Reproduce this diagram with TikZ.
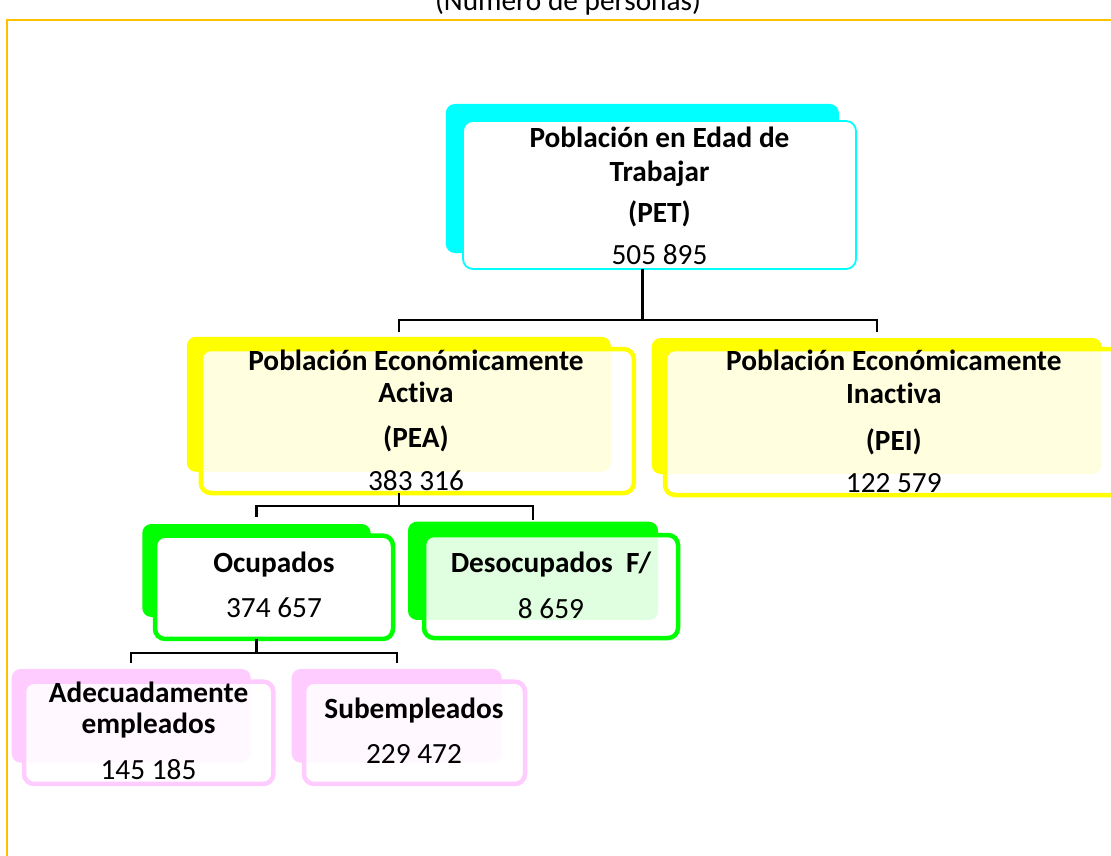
\documentclass[tikz,border=0pt]{standalone}
\usepackage{fontspec}
\setmainfont{Carlito}[Ligatures=NoCommon]
\definecolor{framec}{HTML}{FFC000}
\definecolor{cyanc}{HTML}{00FFFF}
\definecolor{yelc}{HTML}{FFFF00}
\definecolor{grnc}{HTML}{00FF00}
\definecolor{pnkc}{HTML}{FFCCFF}
\tikzset{
 backbox/.style={rectangle, rounded corners=9pt, inner sep=0pt, outer sep=0pt, draw=none},
 frontbox/.style={rectangle, rounded corners=10pt, inner sep=0pt, outer sep=0pt, line width=4.5pt, fill=white},
 glass/.style={fill opacity=0.88},
 conn/.style={draw=black, line width=2.4pt},
 tb/.style={anchor=base, inner sep=0pt, font=\bfseries\fontsize{29.3}{35}\selectfont},
 tn/.style={anchor=base, inner sep=0pt, font=\fontsize{29.3}{35}\selectfont},
}
\begin{document}
\begin{tikzpicture}[x=1pt,y=-1pt]
\useasboundingbox[fill=white] (0,0) rectangle (1111,856);
% frame and title
\draw[framec, line width=2.4pt] (1130,20) -- (7,20) -- (7,880);
\node[tn] (title) at (568,11) {(Número de personas)};

% PET
\node[backbox, fill=cyanc, minimum width=393, minimum height=149] (petB) at (642.3,178.5) {};
\node[frontbox, draw=cyanc, line width=1.8pt, minimum width=393, minimum height=148] (pet) at (659.5,195) {};
\node[tb] (pet1) at (659.5,147) {Población en Edad de};
\node[tb] (pet2) at (659.5,182) {Trabajar};
\node[tb] (pet3) at (659.5,222) {(PET)};
\node[tn] (pet4) at (659.5,264) {505 895};

% PEA
\node[backbox, fill=yelc, minimum width=424, minimum height=135] (peaB) at (398.8,404.3) {};
\node[frontbox, glass, draw=yelc, minimum width=433, minimum height=144] (pea) at (417.3,421) {};
\node[tb] (pea1) at (416,370.5) {Población Económicamente};
\node[tb] (pea2) at (416,402) {Activa};
\node[tb] (pea3) at (416,447) {(PEA)};
\node[tn] (pea4) at (416,490.5) {383 316};

% PEI
\node[backbox, fill=yelc, minimum width=450, minimum height=136] (peiB) at (876.7,406) {};
\node[frontbox, glass, draw=yelc, minimum width=457.6, minimum height=146] (pei) at (893.8,422) {};
\node[tb] (pei1) at (893.8,370.5) {Población Económicamente};
\node[tb] (pei2) at (893.8,403.5) {Inactiva};
\node[tb] (pei3) at (893.8,450.5) {(PEI)};
\node[tn] (pei4) at (893.8,492.5) {122 579};

% Ocupados
\node[backbox, fill=grnc, minimum width=228.4, minimum height=93] (ocuB) at (256.5,570.5) {};
\node[frontbox, draw=grnc, minimum width=238, minimum height=103.3] (ocu) at (274,587.3) {};
\node[tb] (ocu1) at (274,572.5) {Ocupados};
\node[tn] (ocu2) at (274,617) {374 657};

% Desocupados
\node[backbox, fill=grnc, minimum width=250, minimum height=98.3] (desB) at (533,570.8) {};
\node[frontbox, glass, draw=grnc, minimum width=254, minimum height=103] (des) at (551,586.5) {};
\node[tb] (des1) at (551,572.5) {Desocupados\ \ F/};
\node[tn] (des2) at (551,618) {8 659};

% Adecuadamente empleados
\node[backbox, fill=pnkc, minimum width=239, minimum height=93.7] (adeB) at (131.2,715.8) {};
\node[frontbox, glass, draw=pnkc, minimum width=249.3, minimum height=102.3] (ade) at (148.7,732.8) {};
\node[tb] (ade1) at (148.5,702.5) {Adecuadamente};
\node[tb] (ade2) at (148.5,733) {empleados};
\node[tn] (ade3) at (148.5,779) {145 185};

% Subempleados
\node[backbox, fill=pnkc, minimum width=210, minimum height=93.7] (subB) at (396.7,715.8) {};
\node[frontbox, glass, draw=pnkc, minimum width=221, minimum height=102.3] (sub) at (414.5,732.8) {};
\node[tb] (sub1) at (414,718) {Subempleados};
\node[tn] (sub2) at (414,763) {229 472};

% connectors
\coordinate (j1) at (642.3,320);
\coordinate (j2) at (398.8,506);
\coordinate (j3) at (256.5,653);
\draw[conn] (petB.center |- pet.south) -- (j1);
\draw[conn] ([yshift=5pt]peaB.north) |- (j1) -| ([yshift=6pt]peiB.north);
\draw[conn] (peaB.center |- pea.south) -- (j2);
\draw[conn] ([yshift=7pt]ocuB.north) |- (j2) -| ([yshift=2pt]desB.north);
\draw[conn] (ocuB.center |- ocu.south) -- (j3);
\draw[conn] ([yshift=6pt]adeB.north) |- (j3) -| ([yshift=6pt]subB.north);
\end{tikzpicture}
\end{document}
